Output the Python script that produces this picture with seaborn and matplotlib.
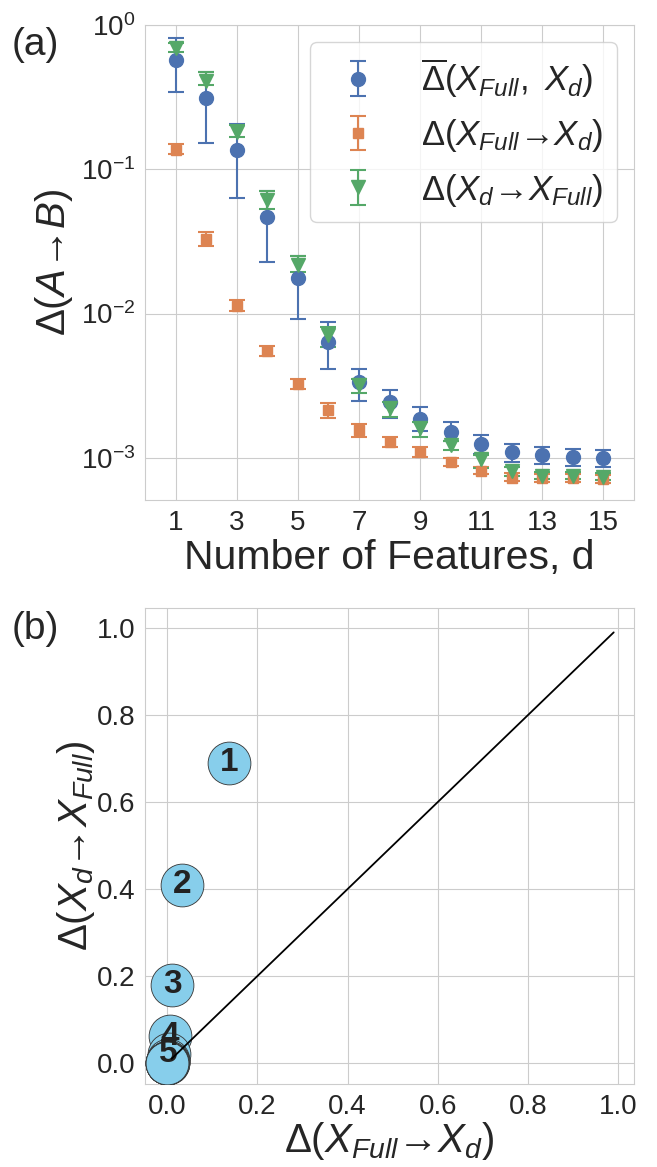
import numpy as np
import pandas as pd
import matplotlib
matplotlib.use("Agg")
import matplotlib.pyplot as plt
import seaborn as sns

# number of features
d = list(range(1, 16))

# mean symmetric distance and its error bounds
sym_mean = [0.573, 0.313, 0.136, 0.0469, 0.0175, 0.0064, 0.00333, 0.00242, 0.00187, 0.0015, 0.00124, 0.00109, 0.00104, 0.00102, 0.00099]
sym_hi = [0.81, 0.473, 0.206, 0.071, 0.0252, 0.0088, 0.00416, 0.00293, 0.00224, 0.00177, 0.00143, 0.00124, 0.00118, 0.00116, 0.00114]
sym_lo = [0.344, 0.152, 0.0635, 0.0229, 0.00923, 0.00416, 0.00246, 0.0019, 0.00153, 0.0013, 0.00107, 0.00093, 0.0009, 0.00088, 0.00086]

# full -> d
fd_mean = [0.137, 0.033, 0.01135, 0.00546, 0.00323, 0.00213, 0.00157, 0.00128, 0.00109, 0.00093, 0.00081, 0.00073, 0.00072, 0.00072, 0.00071]
fd_hi = [0.15, 0.0365, 0.0125, 0.0060, 0.0035, 0.00239, 0.00173, 0.0014, 0.00118, 0.001, 0.00086, 0.00078, 0.00077, 0.00077, 0.00076]
fd_lo = [0.128, 0.0296, 0.0105, 0.0051, 0.0030, 0.0019, 0.0014, 0.00118, 0.00102, 0.00088, 0.00077, 0.00069, 0.00068, 0.00068, 0.00067]

# d -> full
df_mean = [0.69, 0.41, 0.18, 0.0615, 0.0218, 0.00705, 0.00318, 0.0022, 0.0016, 0.00122, 0.00098, 0.00081, 0.00075, 0.00075, 0.00074]
df_hi = [0.75, 0.47, 0.203, 0.071, 0.0252, 0.0081, 0.0035, 0.00243, 0.00177, 0.0013, 0.00105, 0.00087, 0.0008, 0.0008, 0.00079]
df_lo = [0.65, 0.385, 0.168, 0.053, 0.0195, 0.0059, 0.0028, 0.00193, 0.0014, 0.00113, 0.00085, 0.00075, 0.00071, 0.00071, 0.0007]

point_labels = ["1", "2", "3", "4", "5"]

sns.set_style("whitegrid")
plt.rcParams['font.family'] = ['Liberation Sans', 'DejaVu Sans']
plt.rcParams['mathtext.fontset'] = 'custom'
plt.rcParams['mathtext.rm'] = 'Liberation Sans'
plt.rcParams['mathtext.it'] = 'Liberation Sans:italic'
plt.rcParams['mathtext.bf'] = 'Liberation Sans:bold'

pal = sns.color_palette("deep")

fig = plt.figure(figsize=(6.57, 11.67), dpi=100)
ax1 = fig.add_axes([0.2207, 0.5715, 0.7443, 0.4071])
ax2 = fig.add_axes([0.2207, 0.0711, 0.7443, 0.4079])

series = [
    (sym_mean, sym_lo, sym_hi, 'o', 10, pal[0], r'$\overline{\Delta}(X_{Full},\ X_d)$'),
    (fd_mean, fd_lo, fd_hi, 's', 7, pal[1], r'$\Delta(X_{Full}$→$X_d)$'),
    (df_mean, df_lo, df_hi, 'v', 10, pal[2], r'$\Delta(X_d$→$X_{Full})$'),
]
for m, lo, hi, mk, ms, c, lab in series:
    m = np.array(m)
    yerr = [m - np.array(lo), np.array(hi) - m]
    ax1.errorbar(d, m, yerr=yerr, fmt=mk, ms=ms, color=c, capsize=5.5,
                 elinewidth=1.5, capthick=1.5, label=lab)

ax1.set_yscale('log')
ax1.set_ylim(5.1e-4, 1.0)
ax1.set_xlim(0, 16)
ax1.set_xticks(range(1, 16, 2))
ax1.minorticks_off()
ax1.tick_params(labelsize=20)
ax1.set_xlabel('Number of Features, d', fontsize=29.5, labelpad=2)
ax1.set_ylabel(r'$\Delta(A$→$B)$', fontsize=29, labelpad=4)
ax1.legend(loc='upper right', fontsize=25)

# bottom: scatter of the two directions
sc = pd.DataFrame({'x': fd_mean, 'y': df_mean})
sns.scatterplot(data=sc, x='x', y='y', ax=ax2, s=950, color='skyblue',
                edgecolor='#333333', linewidth=0.6, zorder=3)
for i, t in enumerate(point_labels):
    ax2.text(fd_mean[i], df_mean[i], t, ha='center', va='center',
             fontsize=24, fontweight='bold', color='#222222', zorder=4)
ax2.plot([0.01, 0.99], [0.01, 0.99], color='black', lw=1.3, zorder=5)
ax2.set_xlim(-0.049, 1.035)
ax2.set_ylim(-0.048, 1.046)
ax2.set_xticks(np.arange(0, 1.01, 0.2))
ax2.set_yticks(np.arange(0, 1.01, 0.2))
ax2.tick_params(labelsize=20)
ax2.set_xlabel(r'$\Delta(X_{Full}$→$X_d)$', fontsize=29, labelpad=0)
ax2.set_ylabel(r'$\Delta(X_d$→$X_{Full})$', fontsize=29, labelpad=0)

fig.text(0.018, 0.9614, '(a)', fontsize=28, va='center')
fig.text(0.018, 0.4610, '(b)', fontsize=28, va='center')

fig.savefig('out.png', dpi=100)
